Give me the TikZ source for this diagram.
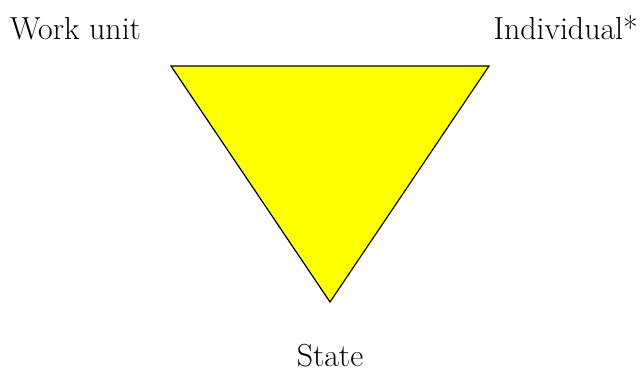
\documentclass[tikz,border=0pt]{standalone}
\definecolor{tri}{HTML}{FFFF00}
\begin{document}
\begin{tikzpicture}[x=1bp,y=-1bp,
  lbl/.style={inner sep=0pt,font=\fontsize{32}{38}\selectfont}]
\useasboundingbox (0,0) rectangle (641,374);
\coordinate (a) at (171,66);
\coordinate (b) at (489,66);
\coordinate (c) at (330,302);
\filldraw[fill=tri,draw=black,line width=1.2bp,line join=miter] (a) -- (b) -- (c) -- cycle;
\node[lbl,anchor=base west] (wu) at (10,39) {Work unit};
\node[lbl,anchor=base east] (ind) at (638,39) {Individual*};
\node[lbl,anchor=base] (st) at (330,366) {State};
\end{tikzpicture}
\end{document}
